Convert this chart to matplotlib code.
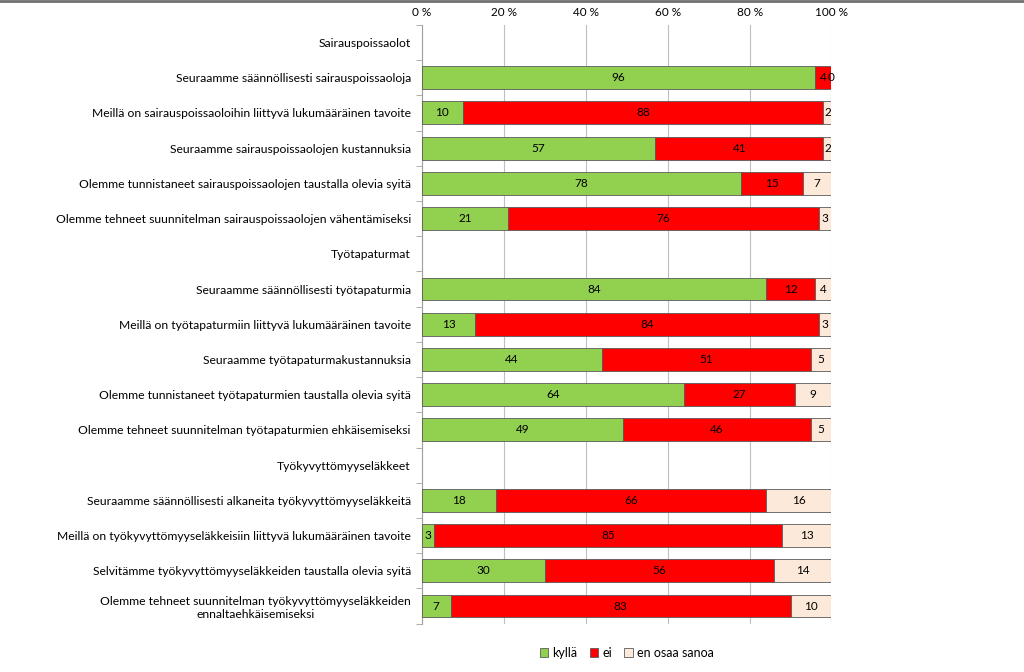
import numpy as np
import matplotlib.pyplot as plt
from matplotlib.lines import Line2D

plt.rcParams["font.family"] = ["Lato", "DejaVu Sans"]

categories = [
    "Sairauspoissaolot",
    "Seuraamme säännöllisesti sairauspoissaoloja",
    "Meillä on sairauspoissaoloihin liittyvä lukumääräinen tavoite",
    "Seuraamme sairauspoissaolojen kustannuksia",
    "Olemme tunnistaneet sairauspoissaolojen taustalla olevia syitä",
    "Olemme tehneet suunnitelman sairauspoissaolojen vähentämiseksi",
    "Työtapaturmat",
    "Seuraamme säännöllisesti työtapaturmia",
    "Meillä on työtapaturmiin liittyvä lukumääräinen tavoite",
    "Seuraamme työtapaturmakustannuksia",
    "Olemme tunnistaneet työtapaturmien taustalla olevia syitä",
    "Olemme tehneet suunnitelman työtapaturmien ehkäisemiseksi",
    "Työkyvyttömyyseläkkeet",
    "Seuraamme säännöllisesti alkaneita työkyvyttömyyseläkkeitä",
    "Meillä on työkyvyttömyyseläkkeisiin liittyvä lukumääräinen tavoite",
    "Selvitämme työkyvyttömyyseläkkeiden taustalla olevia syitä",
    "Olemme tehneet suunnitelman työkyvyttömyyseläkkeiden\nennaltaehkäisemiseksi",
]

# None = otsikkorivi, ei palkkia
kylla = [None, 96, 10, 57, 78, 21, None, 84, 13, 44, 64, 49, None, 18, 3, 30, 7]
ei = [None, 4, 88, 41, 15, 76, None, 12, 84, 51, 27, 46, None, 66, 85, 56, 83]
eos = [None, 0, 2, 2, 7, 3, None, 4, 3, 5, 9, 5, None, 16, 13, 14, 10]

series = [
    ("kyllä", kylla, "#92D050"),
    ("ei", ei, "#FF0000"),
    ("en osaa sanoa", eos, "#FDE9D9"),
]
ticks = [0, 20, 40, 60, 80, 100]

fig = plt.figure(figsize=(10.24, 6.72), dpi=100)
ax = fig.add_axes([0.412, 0.072, 0.4, 0.891])

n = len(categories)
y = np.arange(n)
rows = [i for i in range(n) if kylla[i] is not None]
left = np.zeros(n)
for name, vals, color in series:
    w = np.array([vals[i] for i in rows], dtype=float)
    bars = ax.barh(y[rows], w, left=left[rows], height=0.65, color=color,
                   edgecolor="#5a5a5a", linewidth=0.6, label=name, zorder=3)
    ax.bar_label(bars, labels=[str(int(v)) for v in w], label_type="center",
                 fontsize=8.5, color="black")
    left[rows] += w

ax.set_xlim(0, 100)
ax.set_ylim(n - 0.5, -0.5)
ax.set_xticks(ticks)
ax.set_xticklabels([f"{t}\u00a0%" for t in ticks], fontsize=8.5)
ax.xaxis.tick_top()
ax.tick_params(axis="x", length=0, pad=5)
ax.grid(axis="x", color="#bfbfbf", linewidth=0.8, zorder=0)

ax.set_yticks(y)
ax.set_yticklabels(categories, fontsize=8.7, multialignment="center")
ax.tick_params(axis="y", length=0, pad=8)
ax.set_yticks(np.arange(n + 1) - 0.5, minor=True)
ax.tick_params(axis="y", which="minor", length=4, color="#a0a0a0", direction="out")

for s in ["top", "right", "bottom"]:
    ax.spines[s].set_visible(False)
ax.spines["left"].set_color("#a0a0a0")

ax.legend(loc="upper center", bbox_to_anchor=(0.5, -0.02), ncol=3, frameon=False,
          fontsize=9, handlelength=0.7, handleheight=0.7, handletextpad=0.3,
          columnspacing=1.0)

fig.add_artist(Line2D([0, 1], [0.998, 0.998], transform=fig.transFigure,
                      color="#707070", linewidth=2))

fig.savefig("out.png", dpi=100)
